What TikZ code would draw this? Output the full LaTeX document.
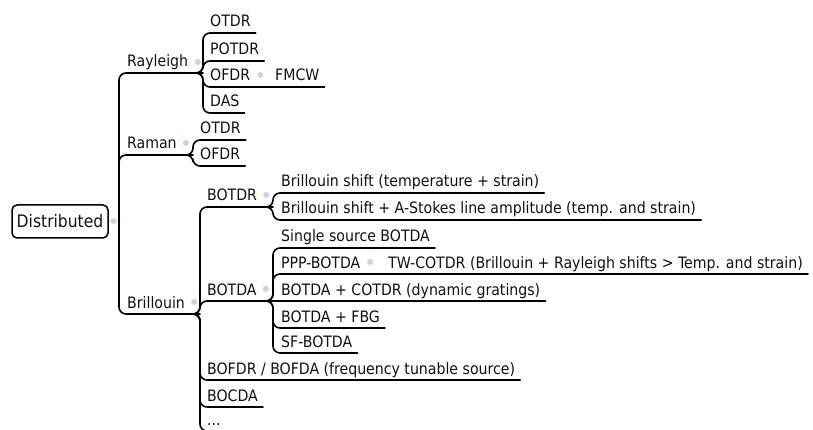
\documentclass[tikz,border=0pt]{standalone}
\usepackage{fontspec}
\setmainfont{DejaVu Sans Condensed}
\usetikzlibrary{calc}
\definecolor{dotblue}{HTML}{C3D3EE}
\definecolor{ink}{HTML}{111111}
\begin{document}
\begin{tikzpicture}[x=1pt,y=-1pt,
  topic/.style={anchor=base west, inner sep=0pt, text=ink, font=\fontsize{15.7}{17}\selectfont},
  conn/.style={line width=1.6pt, rounded corners=7pt, line cap=round},
  bdot/.style={circle, fill=dotblue, inner sep=0pt, minimum size=6pt},
  thin/.style={gray!55, line width=0.8pt}]
\useasboundingbox (0,0) rectangle (813,430);
\clip (0,0) rectangle (813,430);

% junctions (bracket points)
\coordinate (Jmain) at (119,221);
\coordinate (Jray) at (203,73);
\coordinate (Jram) at (193,155);
\coordinate (Jbri) at (200,314);
\coordinate (Jbotdr) at (273,207);
\coordinate (Jbotda) at (273,301);

% central topic
\node[draw, line width=1.5pt, rounded corners=5pt, minimum width=96pt, minimum height=33pt,
      inner sep=0pt, text=ink, font=\fontsize{17.3}{19}\selectfont] (dist) at (60,221.5) {Distributed};
\node[bdot] (ddot) at (113.5,221) {};
\draw[thin] (dist.east) -- (ddot) -- (Jmain);

% level 1
\node[topic] (ray) at (127,67) {Rayleigh};
\node[topic] (ram) at (127,149) {Raman};
\node[topic] (bri) at (127,308) {Brillouin};
\node[bdot] (raydot) at ($(ray.base east)+(9.5,-5)$) {};
\node[bdot] (ramdot) at ($(ram.base east)+(9,-6)$) {};
\node[bdot] (bridot) at ($(bri.base east)+(9,-6)$) {};
\draw[conn] (Jmain) -- (Jmain |- Jray) -- (Jray);
\draw[conn] (Jmain) -- (Jmain |- Jram) -- (Jram);
\draw[conn] (Jmain) -- (Jmain |- Jbri) -- (Jbri);

% Rayleigh children
\node[topic] (r1) at (210,27) {OTDR};
\node[topic] (r2) at (210,55) {POTDR};
\node[topic] (r3) at (210,81) {OFDR};
\node[topic] (r4) at (210,107) {DAS};
\node[bdot] (r3dot) at ($(r3.base east)+(10,-6)$) {};
\node[topic] (r31) at (275,81) {FMCW};
\foreach \n in {r1,r2,r4,r31} \coordinate (\n-e) at ($(\n.base east)+(5,6)$);
\coordinate (r3-e) at ($(r3.base east)+(18,6)$);
\foreach \n in {r1,r2,r3,r4}
  \draw[conn] ($(Jray)+(-8,0)$) -- (Jray) -- (Jray |- \n-e) -- (\n-e);
\draw[conn] (r3-e) -- (r31-e);

% Raman children
\node[topic] (m1) at (200,134) {OTDR};
\node[topic] (m2) at (200,160) {OFDR};
\foreach \n in {m1,m2} {
  \coordinate (\n-e) at ($(\n.base east)+(5,6)$);
  \draw[conn] ($(Jram)+(-8,0)$) -- (Jram) -- (Jram |- \n-e) -- (\n-e);
}

% Brillouin children
\node[topic] (b1) at (207,201) {BOTDR};
\node[topic] (b2) at (207,295) {BOTDA};
\node[topic] (b3) at (207,374) {BOFDR / BOFDA (frequency tunable source)};
\node[topic] (b4) at (207,401) {BOCDA};
\node[topic] (b5) at (207,425) {...};
\node[bdot] (b1dot) at ($(b1.base east)+(9,-6)$) {};
\node[bdot] (b2dot) at ($(b2.base east)+(9,-6)$) {};
\foreach \n in {b3,b4,b5} \coordinate (\n-e) at ($(\n.base east)+(5,6)$);
\draw[conn] ($(Jbri)+(-8,0)$) -- (Jbri) -- (Jbri |- Jbotdr) -- (Jbotdr);
\draw[conn] ($(Jbri)+(-8,0)$) -- (Jbri) -- (Jbri |- Jbotda) -- (Jbotda);
\foreach \n in {b3,b4,b5}
  \draw[conn] ($(Jbri)+(-8,0)$) -- (Jbri) -- (Jbri |- \n-e) -- (\n-e);

% BOTDR children
\node[topic] (t1) at (281,187) {Brillouin shift (temperature + strain)};
\node[topic] (t2) at (281,214) {Brillouin shift + A-Stokes line amplitude (temp. and strain)};
\foreach \n in {t1,t2} {
  \coordinate (\n-e) at ($(\n.base east)+(5,6)$);
  \draw[conn] ($(Jbotdr)+(-8,0)$) -- (Jbotdr) -- (Jbotdr |- \n-e) -- (\n-e);
}

% BOTDA children
\node[topic] (a1) at (281,242) {Single source BOTDA};
\node[topic] (a2) at (281,268) {PPP-BOTDA};
\node[bdot] (a2dot) at ($(a2.base east)+(9.5,-6)$) {};
\node[topic] (a21) at (388,268) {TW-COTDR (Brillouin + Rayleigh shifts > Temp. and strain)};
\node[topic] (a3) at (281,295) {BOTDA + COTDR (dynamic gratings)};
\node[topic] (a4) at (281,322) {BOTDA + FBG};
\node[topic] (a5) at (281,347) {SF-BOTDA};
\foreach \n in {a1,a3,a4,a5,a21} \coordinate (\n-e) at ($(\n.base east)+(5,6)$);
\coordinate (a2-e) at ($(a2.base east)+(18,6)$);
\foreach \n in {a1,a2,a4,a5}
  \draw[conn] ($(Jbotda)+(-8,0)$) -- (Jbotda) -- (Jbotda |- \n-e) -- (\n-e);
\draw[conn] ($(Jbotda)+(-8,0)$) -- (a3-e);
\draw[conn] (a2-e) -- (a21-e);
\end{tikzpicture}
\end{document}
